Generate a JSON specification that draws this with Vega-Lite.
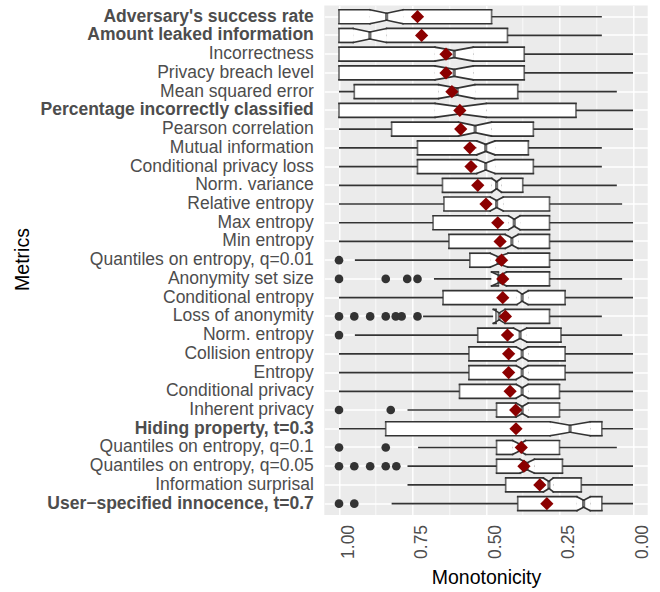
{
  "$schema": "https://vega.github.io/schema/vega-lite/v6.json",
  "width": 323.4,
  "height": 509.4,
  "autosize": {"type": "none"},
  "padding": {"left": 324.3, "top": 5.5, "right": 12.3, "bottom": 77.1},
  "background": "white",
  "config": {
    "view": {"fill": "#EBEBEB", "stroke": null},
    "font": "Liberation Sans",
    "axis": {"labelFont": "Liberation Sans", "titleFont": "Liberation Sans"}
  },
  "datasets": {
    "stats": [
      {"m": "Adversary's success rate", "wmax": 1.0, "q3": 1.0, "nhi": 0.895, "med": 0.838, "nlo": 0.782, "q1": 0.481, "wmin": 0.106, "mean": 0.733},
      {"m": "Amount leaked information", "wmax": 1.0, "q3": 1.0, "nhi": 0.952, "med": 0.895, "nlo": 0.838, "q1": 0.427, "wmin": 0.106, "mean": 0.719},
      {"m": "Incorrectness", "wmax": 1.0, "q3": 1.0, "nhi": 0.674, "med": 0.608, "nlo": 0.543, "q1": 0.37, "wmin": 0.0, "mean": 0.636},
      {"m": "Privacy breach level", "wmax": 1.0, "q3": 1.0, "nhi": 0.674, "med": 0.608, "nlo": 0.543, "q1": 0.37, "wmin": 0.0, "mean": 0.636},
      {"m": "Mean squared error", "wmax": 1.0, "q3": 0.948, "nhi": 0.662, "med": 0.598, "nlo": 0.537, "q1": 0.392, "wmin": 0.055, "mean": 0.616},
      {"m": "Percentage incorrectly classified", "wmax": 1.0, "q3": 1.0, "nhi": 0.674, "med": 0.589, "nlo": 0.498, "q1": 0.194, "wmin": 0.0, "mean": 0.589},
      {"m": "Pearson correlation", "wmax": 1.0, "q3": 0.821, "nhi": 0.594, "med": 0.537, "nlo": 0.481, "q1": 0.339, "wmin": 0.0, "mean": 0.586},
      {"m": "Mutual information", "wmax": 1.0, "q3": 0.733, "nhi": 0.532, "med": 0.501, "nlo": 0.469, "q1": 0.356, "wmin": 0.106, "mean": 0.555},
      {"m": "Conditional privacy loss", "wmax": 1.0, "q3": 0.733, "nhi": 0.532, "med": 0.501, "nlo": 0.469, "q1": 0.339, "wmin": 0.106, "mean": 0.551},
      {"m": "Norm. variance", "wmax": 1.0, "q3": 0.648, "nhi": 0.481, "med": 0.464, "nlo": 0.447, "q1": 0.375, "wmin": 0.055, "mean": 0.528},
      {"m": "Relative entropy", "wmax": 1.0, "q3": 0.643, "nhi": 0.486, "med": 0.464, "nlo": 0.441, "q1": 0.284, "wmin": 0.037, "mean": 0.5},
      {"m": "Max entropy", "wmax": 1.0, "q3": 0.68, "nhi": 0.424, "med": 0.404, "nlo": 0.384, "q1": 0.284, "wmin": 0.0, "mean": 0.46},
      {"m": "Min entropy", "wmax": 1.0, "q3": 0.626, "nhi": 0.435, "med": 0.412, "nlo": 0.39, "q1": 0.284, "wmin": 0.0, "mean": 0.452},
      {"m": "Quantiles on entropy, q=0.01", "wmax": 0.946, "q3": 0.555, "nhi": 0.486, "med": 0.459, "nlo": 0.425, "q1": 0.284, "wmin": 0.0, "mean": 0.447},
      {"m": "Anonymity set size", "wmax": 0.677, "q3": 0.458, "nhi": 0.481, "med": 0.455, "nlo": 0.43, "q1": 0.284, "wmin": 0.037, "mean": 0.443},
      {"m": "Conditional entropy", "wmax": 1.0, "q3": 0.646, "nhi": 0.395, "med": 0.377, "nlo": 0.356, "q1": 0.231, "wmin": 0.0, "mean": 0.443},
      {"m": "Loss of anonymity", "wmax": 0.714, "q3": 0.466, "nhi": 0.475, "med": 0.455, "nlo": 0.435, "q1": 0.284, "wmin": 0.106, "mean": 0.434},
      {"m": "Norm. entropy", "wmax": 0.946, "q3": 0.528, "nhi": 0.407, "med": 0.384, "nlo": 0.361, "q1": 0.245, "wmin": 0.037, "mean": 0.427},
      {"m": "Collision entropy", "wmax": 1.0, "q3": 0.558, "nhi": 0.398, "med": 0.377, "nlo": 0.356, "q1": 0.231, "wmin": 0.0, "mean": 0.423},
      {"m": "Entropy", "wmax": 1.0, "q3": 0.558, "nhi": 0.398, "med": 0.377, "nlo": 0.356, "q1": 0.231, "wmin": 0.0, "mean": 0.423},
      {"m": "Conditional privacy", "wmax": 1.0, "q3": 0.59, "nhi": 0.398, "med": 0.377, "nlo": 0.356, "q1": 0.25, "wmin": 0.0, "mean": 0.418},
      {"m": "Inherent privacy", "wmax": 0.767, "q3": 0.464, "nhi": 0.398, "med": 0.377, "nlo": 0.356, "q1": 0.25, "wmin": 0.0, "mean": 0.399},
      {"m": "Hiding property, t=0.3", "wmax": 1.0, "q3": 0.841, "nhi": 0.282, "med": 0.214, "nlo": 0.145, "q1": 0.106, "wmin": 0.0, "mean": 0.398},
      {"m": "Quantiles on entropy, q=0.1", "wmax": 0.731, "q3": 0.464, "nhi": 0.41, "med": 0.386, "nlo": 0.365, "q1": 0.25, "wmin": 0.055, "mean": 0.38},
      {"m": "Quantiles on entropy, q=0.05", "wmax": 0.767, "q3": 0.464, "nhi": 0.385, "med": 0.36, "nlo": 0.335, "q1": 0.24, "wmin": 0.0, "mean": 0.371},
      {"m": "Information surprisal", "wmax": 0.767, "q3": 0.433, "nhi": 0.305, "med": 0.286, "nlo": 0.271, "q1": 0.176, "wmin": 0.0, "mean": 0.317},
      {"m": "User−specified innocence, t=0.7", "wmax": 0.821, "q3": 0.392, "nhi": 0.191, "med": 0.168, "nlo": 0.145, "q1": 0.106, "wmin": 0.0, "mean": 0.293}
    ],
    "outliers": [
      {"m": "Quantiles on entropy, q=0.01", "v": 1.0},
      {"m": "Anonymity set size", "v": 1.0},
      {"m": "Anonymity set size", "v": 0.841},
      {"m": "Anonymity set size", "v": 0.768},
      {"m": "Anonymity set size", "v": 0.733},
      {"m": "Loss of anonymity", "v": 1.0},
      {"m": "Loss of anonymity", "v": 0.948},
      {"m": "Loss of anonymity", "v": 0.894},
      {"m": "Loss of anonymity", "v": 0.841},
      {"m": "Loss of anonymity", "v": 0.807},
      {"m": "Loss of anonymity", "v": 0.787},
      {"m": "Loss of anonymity", "v": 0.733},
      {"m": "Norm. entropy", "v": 1.0},
      {"m": "Inherent privacy", "v": 1.0},
      {"m": "Inherent privacy", "v": 0.824},
      {"m": "Quantiles on entropy, q=0.1", "v": 1.0},
      {"m": "Quantiles on entropy, q=0.1", "v": 0.841},
      {"m": "Quantiles on entropy, q=0.05", "v": 1.0},
      {"m": "Quantiles on entropy, q=0.05", "v": 0.948},
      {"m": "Quantiles on entropy, q=0.05", "v": 0.894},
      {"m": "Quantiles on entropy, q=0.05", "v": 0.841},
      {"m": "Quantiles on entropy, q=0.05", "v": 0.805},
      {"m": "User−specified innocence, t=0.7", "v": 1.0},
      {"m": "User−specified innocence, t=0.7", "v": 0.948}
    ]
  },
  "data": {"name": "stats"},
  "resolve": {"axis": {"x": "independent"}},
  "layer": [
    {
      "mark": {"type": "rule", "color": "#333333", "strokeWidth": 1.7},
      "encoding": {
        "y": {
          "field": "m", "type": "nominal",
          "scale": {"type": "band", "paddingInner": 0, "paddingOuter": 0.1, "domain": ["Adversary's success rate", "Amount leaked information", "Incorrectness", "Privacy breach level", "Mean squared error", "Percentage incorrectly classified", "Pearson correlation", "Mutual information", "Conditional privacy loss", "Norm. variance", "Relative entropy", "Max entropy", "Min entropy", "Quantiles on entropy, q=0.01", "Anonymity set size", "Conditional entropy", "Loss of anonymity", "Norm. entropy", "Collision entropy", "Entropy", "Conditional privacy", "Inherent privacy", "Hiding property, t=0.3", "Quantiles on entropy, q=0.1", "Quantiles on entropy, q=0.05", "Information surprisal", "User−specified innocence, t=0.7"]},
          "axis": {
            "title": "Metrics", "titleFontSize": 19.5, "titleFontWeight": "normal", "titleColor": "#000000",
            "titleAngle": 270, "titleX": -296, "titleY": 253.5, "titleAlign": "center", "titleBaseline": "alphabetic",
            "labelFontSize": 17.5, "labelColor": "#4D4D4D", "labelPadding": 11, "labelLimit": 500,
            "labelFontWeight": {"condition": {"test": "datum.value == \"Adversary's success rate\" || datum.value == \"Amount leaked information\" || datum.value == \"Percentage incorrectly classified\" || datum.value == \"Hiding property, t=0.3\" || datum.value == \"User−specified innocence, t=0.7\"", "value": "bold"}, "value": "normal"},
            "ticks": false, "tickSize": 0, "domain": false,
            "grid": true, "gridColor": "#FFFFFF", "gridWidth": 1.4, "bandPosition": 0.5
          }
        },
        "x": {
          "field": "wmax", "type": "quantitative",
          "scale": {"domain": [-0.05, 1.05], "reverse": true, "zero": false, "nice": false},
          "axis": {
            "title": "Monotonicity", "titleFontSize": 19.5, "titleFontWeight": "normal", "titleColor": "#000000",
            "titleX": 161.7, "titleY": 69, "titleAlign": "center", "titleBaseline": "alphabetic",
            "values": [0, 0.25, 0.5, 0.75, 1], "format": ".2f",
            "labelAngle": 270, "labelAlign": "right", "labelBaseline": "top", "labelPadding": 9.5,
            "labelFontSize": 17.5, "labelColor": "#4D4D4D",
            "ticks": false, "tickSize": 0, "domain": false,
            "grid": true, "gridColor": "#FFFFFF", "gridWidth": 1.4
          }
        },
        "x2": {"field": "wmin"}
      }
    },
    {
      "mark": {"type": "bar", "color": "#FFFFFF", "height": 14.05},
      "encoding": {
        "y": {"field": "m", "type": "nominal"},
        "x": {"field": "q3", "type": "quantitative", "axis": {"values": [0.125, 0.375, 0.625, 0.875], "grid": true, "gridColor": "#FFFFFF", "gridWidth": 0.7, "labels": false, "ticks": false, "tickSize": 0, "domain": false, "title": null}},
        "x2": {"field": "nhi"}
      }
    },
    {
      "mark": {"type": "bar", "color": "#FFFFFF", "height": 14.05},
      "encoding": {
        "y": {"field": "m", "type": "nominal"},
        "x": {"field": "nlo", "type": "quantitative", "axis": null},
        "x2": {"field": "q1"}
      }
    },
    {
      "mark": {"type": "bar", "color": "#FFFFFF", "height": 10.5},
      "encoding": {
        "y": {"field": "m", "type": "nominal"},
        "x": {"field": "nhi", "type": "quantitative", "axis": null},
        "x2": {"field": "nlo"}
      }
    },
    {
      "mark": {"type": "tick", "color": "#333333", "size": 14.05, "thickness": 1.7, "orient": "vertical"},
      "encoding": {
        "y": {"field": "m", "type": "nominal"},
        "x": {"field": "q3", "type": "quantitative", "axis": null}
      }
    },
    {
      "mark": {"type": "tick", "color": "#333333", "size": 14.05, "thickness": 1.7, "orient": "vertical"},
      "encoding": {
        "y": {"field": "m", "type": "nominal"},
        "x": {"field": "q1", "type": "quantitative", "axis": null}
      }
    },
    {
      "mark": {"type": "tick", "color": "#333333", "size": 7.6, "thickness": 3.2, "orient": "vertical"},
      "encoding": {
        "y": {"field": "m", "type": "nominal"},
        "x": {"field": "med", "type": "quantitative", "axis": null}
      }
    },
    {
      "mark": {"type": "rule", "color": "#333333", "strokeWidth": 1.7, "strokeCap": "square", "yOffset": -7},
      "encoding": {
        "y": {"field": "m", "type": "nominal"},
        "x": {"field": "q3", "type": "quantitative", "axis": null},
        "x2": {"field": "nhi"}
      }
    },
    {
      "mark": {"type": "rule", "color": "#333333", "strokeWidth": 1.7, "strokeCap": "square", "yOffset": 7},
      "encoding": {
        "y": {"field": "m", "type": "nominal"},
        "x": {"field": "q3", "type": "quantitative", "axis": null},
        "x2": {"field": "nhi"}
      }
    },
    {
      "mark": {"type": "rule", "color": "#333333", "strokeWidth": 1.7, "strokeCap": "square", "yOffset": -7},
      "encoding": {
        "y": {"field": "m", "type": "nominal"},
        "x": {"field": "nlo", "type": "quantitative", "axis": null},
        "x2": {"field": "q1"}
      }
    },
    {
      "mark": {"type": "rule", "color": "#333333", "strokeWidth": 1.7, "strokeCap": "square", "yOffset": 7},
      "encoding": {
        "y": {"field": "m", "type": "nominal"},
        "x": {"field": "nlo", "type": "quantitative", "axis": null},
        "x2": {"field": "q1"}
      }
    },
    {
      "mark": {"type": "rule", "color": "#333333", "strokeWidth": 1.7, "strokeCap": "round", "yOffset": -7, "y2Offset": -3.5},
      "encoding": {
        "y": {"field": "m", "type": "nominal"},
        "y2": {"field": "m"},
        "x": {"field": "nhi", "type": "quantitative", "axis": null},
        "x2": {"field": "med"}
      }
    },
    {
      "mark": {"type": "rule", "color": "#333333", "strokeWidth": 1.7, "strokeCap": "round", "yOffset": 7, "y2Offset": 3.5},
      "encoding": {
        "y": {"field": "m", "type": "nominal"},
        "y2": {"field": "m"},
        "x": {"field": "nhi", "type": "quantitative", "axis": null},
        "x2": {"field": "med"}
      }
    },
    {
      "mark": {"type": "rule", "color": "#333333", "strokeWidth": 1.7, "strokeCap": "round", "yOffset": -3.5, "y2Offset": -7},
      "encoding": {
        "y": {"field": "m", "type": "nominal"},
        "y2": {"field": "m"},
        "x": {"field": "med", "type": "quantitative", "axis": null},
        "x2": {"field": "nlo"}
      }
    },
    {
      "mark": {"type": "rule", "color": "#333333", "strokeWidth": 1.7, "strokeCap": "round", "yOffset": 3.5, "y2Offset": 7},
      "encoding": {
        "y": {"field": "m", "type": "nominal"},
        "y2": {"field": "m"},
        "x": {"field": "med", "type": "quantitative", "axis": null},
        "x2": {"field": "nlo"}
      }
    },
    {
      "data": {"name": "outliers"},
      "mark": {"type": "point", "shape": "circle", "filled": true, "color": "#333333", "size": 75, "opacity": 1},
      "encoding": {
        "y": {"field": "m", "type": "nominal"},
        "x": {"field": "v", "type": "quantitative", "axis": null}
      }
    },
    {
      "mark": {"type": "point", "shape": "diamond", "filled": true, "color": "#8B0000", "size": 175, "opacity": 1},
      "encoding": {
        "y": {"field": "m", "type": "nominal"},
        "x": {"field": "mean", "type": "quantitative", "axis": null}
      }
    }
  ]
}
